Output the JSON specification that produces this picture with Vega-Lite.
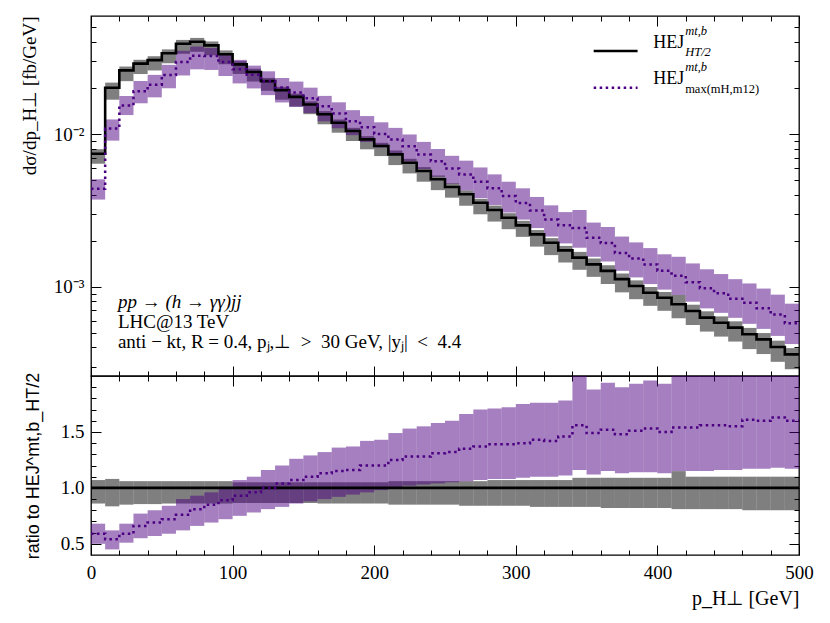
{
  "$schema": "https://vega.github.io/schema/vega-lite/v6.json",
  "background": "white",
  "padding": {"left": 19, "top": 14, "right": 32, "bottom": 10},
  "spacing": 0,
  "bounds": "flush",
  "config": {
    "view": {"stroke": "black", "strokeWidth": 1.3},
    "font": "Liberation Serif",
    "axis": {
      "domain": false, "grid": false, "tickColor": "black", "tickWidth": 1,
      "labelColor": "black", "titleColor": "black",
      "labelFont": "Liberation Serif", "labelFontSize": 19,
      "titleFont": "Liberation Serif", "titleFontSize": 19, "titleFontWeight": "normal",
      "labelFlush": false, "labelOverlap": false, "zindex": 1
    }
  },
  "datasets": {
    "h": [
      {"lo": 0, "hi": 10, "c": 0.00743, "cl": 0.00639, "ch": 0.00795, "p": 0.00438, "pl": 0.00372, "ph": 0.00505, "rcl": 0.86, "rch": 1.07, "rp": 0.59, "rpl": 0.5, "rph": 0.68},
      {"lo": 10, "hi": 20, "c": 0.0201, "cl": 0.01678, "ch": 0.02171, "p": 0.01085, "pl": 0.00905, "ph": 0.01246, "rcl": 0.835, "rch": 1.08, "rp": 0.54, "rpl": 0.45, "rph": 0.62},
      {"lo": 20, "hi": 30, "c": 0.0261, "cl": 0.02219, "ch": 0.02767, "p": 0.0154, "pl": 0.01331, "ph": 0.01775, "rcl": 0.85, "rch": 1.06, "rp": 0.59, "rpl": 0.51, "rph": 0.68},
      {"lo": 30, "hi": 40, "c": 0.0289, "cl": 0.02471, "ch": 0.03063, "p": 0.01907, "pl": 0.0159, "ph": 0.02225, "rcl": 0.855, "rch": 1.06, "rp": 0.66, "rpl": 0.55, "rph": 0.77},
      {"lo": 40, "hi": 50, "c": 0.0305, "cl": 0.02608, "ch": 0.03233, "p": 0.02105, "pl": 0.01739, "ph": 0.0244, "rcl": 0.855, "rch": 1.06, "rp": 0.69, "rpl": 0.57, "rph": 0.8},
      {"lo": 50, "hi": 60, "c": 0.0338, "cl": 0.02907, "ch": 0.03583, "p": 0.02434, "pl": 0.01994, "ph": 0.02839, "rcl": 0.86, "rch": 1.06, "rp": 0.72, "rpl": 0.59, "rph": 0.84},
      {"lo": 60, "hi": 70, "c": 0.039, "cl": 0.03354, "ch": 0.04134, "p": 0.02964, "pl": 0.02418, "ph": 0.0351, "rcl": 0.86, "rch": 1.06, "rp": 0.76, "rpl": 0.62, "rph": 0.9},
      {"lo": 70, "hi": 80, "c": 0.0402, "cl": 0.03457, "ch": 0.04261, "p": 0.03256, "pl": 0.02653, "ph": 0.03739, "rcl": 0.86, "rch": 1.06, "rp": 0.81, "rpl": 0.66, "rph": 0.93},
      {"lo": 80, "hi": 90, "c": 0.0381, "cl": 0.03277, "ch": 0.04039, "p": 0.03239, "pl": 0.02629, "ph": 0.03658, "rcl": 0.86, "rch": 1.06, "rp": 0.85, "rpl": 0.69, "rph": 0.96},
      {"lo": 90, "hi": 100, "c": 0.0333, "cl": 0.02864, "ch": 0.0353, "p": 0.02964, "pl": 0.02398, "ph": 0.03363, "rcl": 0.86, "rch": 1.06, "rp": 0.89, "rpl": 0.72, "rph": 1.01},
      {"lo": 100, "hi": 110, "c": 0.0286, "cl": 0.02474, "ch": 0.03003, "p": 0.0266, "pl": 0.02145, "ph": 0.0306, "rcl": 0.865, "rch": 1.05, "rp": 0.93, "rpl": 0.75, "rph": 1.07},
      {"lo": 110, "hi": 120, "c": 0.0255, "cl": 0.02206, "ch": 0.02678, "p": 0.02448, "pl": 0.01989, "ph": 0.02805, "rcl": 0.865, "rch": 1.05, "rp": 0.96, "rpl": 0.78, "rph": 1.1},
      {"lo": 120, "hi": 130, "c": 0.0222, "cl": 0.0192, "ch": 0.02331, "p": 0.0222, "pl": 0.01798, "ph": 0.02575, "rcl": 0.865, "rch": 1.05, "rp": 1.0, "rpl": 0.81, "rph": 1.16},
      {"lo": 130, "hi": 140, "c": 0.0194, "cl": 0.01678, "ch": 0.02037, "p": 0.02018, "pl": 0.0161, "ph": 0.02328, "rcl": 0.865, "rch": 1.05, "rp": 1.04, "rpl": 0.83, "rph": 1.2},
      {"lo": 140, "hi": 150, "c": 0.0175, "cl": 0.01514, "ch": 0.01838, "p": 0.01873, "pl": 0.01505, "ph": 0.02205, "rcl": 0.865, "rch": 1.05, "rp": 1.07, "rpl": 0.86, "rph": 1.26},
      {"lo": 150, "hi": 160, "c": 0.0156, "cl": 0.01349, "ch": 0.01638, "p": 0.01716, "pl": 0.01373, "ph": 0.02012, "rcl": 0.865, "rch": 1.05, "rp": 1.1, "rpl": 0.88, "rph": 1.29},
      {"lo": 160, "hi": 170, "c": 0.01346, "cl": 0.01158, "ch": 0.01413, "p": 0.01521, "pl": 0.01211, "ph": 0.01777, "rcl": 0.86, "rch": 1.05, "rp": 1.13, "rpl": 0.9, "rph": 1.32},
      {"lo": 170, "hi": 180, "c": 0.01186, "cl": 0.0102, "ch": 0.01245, "p": 0.01364, "pl": 0.01091, "ph": 0.01613, "rcl": 0.86, "rch": 1.05, "rp": 1.15, "rpl": 0.92, "rph": 1.36},
      {"lo": 180, "hi": 190, "c": 0.01046, "cl": 0.009, "ch": 0.01098, "p": 0.01213, "pl": 0.00983, "ph": 0.01433, "rcl": 0.86, "rch": 1.05, "rp": 1.16, "rpl": 0.94, "rph": 1.37},
      {"lo": 190, "hi": 200, "c": 0.00923, "cl": 0.00794, "ch": 0.00969, "p": 0.01108, "pl": 0.00886, "ph": 0.01311, "rcl": 0.86, "rch": 1.05, "rp": 1.2, "rpl": 0.96, "rph": 1.42},
      {"lo": 200, "hi": 210, "c": 0.00834, "cl": 0.00717, "ch": 0.00876, "p": 0.01001, "pl": 0.00817, "ph": 0.01193, "rcl": 0.86, "rch": 1.05, "rp": 1.2, "rpl": 0.98, "rph": 1.43},
      {"lo": 210, "hi": 220, "c": 0.00736, "cl": 0.00626, "ch": 0.0078, "p": 0.0092, "pl": 0.00736, "ph": 0.01097, "rcl": 0.85, "rch": 1.06, "rp": 1.25, "rpl": 1.0, "rph": 1.49},
      {"lo": 220, "hi": 230, "c": 0.00649, "cl": 0.00552, "ch": 0.00688, "p": 0.00831, "pl": 0.00662, "ph": 0.00993, "rcl": 0.85, "rch": 1.06, "rp": 1.28, "rpl": 1.02, "rph": 1.53},
      {"lo": 230, "hi": 240, "c": 0.00573, "cl": 0.00487, "ch": 0.00607, "p": 0.00733, "pl": 0.0059, "ph": 0.00888, "rcl": 0.85, "rch": 1.06, "rp": 1.28, "rpl": 1.03, "rph": 1.55},
      {"lo": 240, "hi": 250, "c": 0.00505, "cl": 0.00429, "ch": 0.00535, "p": 0.00662, "pl": 0.00525, "ph": 0.00798, "rcl": 0.85, "rch": 1.06, "rp": 1.31, "rpl": 1.04, "rph": 1.58},
      {"lo": 250, "hi": 260, "c": 0.0045, "cl": 0.00383, "ch": 0.00477, "p": 0.00594, "pl": 0.00473, "ph": 0.0072, "rcl": 0.85, "rch": 1.06, "rp": 1.32, "rpl": 1.05, "rph": 1.6},
      {"lo": 260, "hi": 270, "c": 0.00403, "cl": 0.00339, "ch": 0.00427, "p": 0.00544, "pl": 0.00427, "ph": 0.00669, "rcl": 0.84, "rch": 1.06, "rp": 1.35, "rpl": 1.06, "rph": 1.66},
      {"lo": 270, "hi": 280, "c": 0.00355, "cl": 0.00298, "ch": 0.00376, "p": 0.00486, "pl": 0.0038, "ph": 0.00604, "rcl": 0.84, "rch": 1.06, "rp": 1.37, "rpl": 1.07, "rph": 1.7},
      {"lo": 280, "hi": 290, "c": 0.00318, "cl": 0.00267, "ch": 0.0034, "p": 0.00442, "pl": 0.00343, "ph": 0.00544, "rcl": 0.84, "rch": 1.07, "rp": 1.39, "rpl": 1.08, "rph": 1.71},
      {"lo": 290, "hi": 300, "c": 0.00283, "cl": 0.00238, "ch": 0.00303, "p": 0.00393, "pl": 0.00306, "ph": 0.00487, "rcl": 0.84, "rch": 1.07, "rp": 1.39, "rpl": 1.08, "rph": 1.72},
      {"lo": 300, "hi": 310, "c": 0.00252, "cl": 0.00212, "ch": 0.0027, "p": 0.00353, "pl": 0.00275, "ph": 0.00441, "rcl": 0.84, "rch": 1.07, "rp": 1.4, "rpl": 1.09, "rph": 1.75},
      {"lo": 310, "hi": 320, "c": 0.0022, "cl": 0.00183, "ch": 0.00235, "p": 0.00315, "pl": 0.00242, "ph": 0.00387, "rcl": 0.83, "rch": 1.07, "rp": 1.43, "rpl": 1.1, "rph": 1.76},
      {"lo": 320, "hi": 330, "c": 0.00194, "cl": 0.00161, "ch": 0.00208, "p": 0.00275, "pl": 0.00213, "ph": 0.00341, "rcl": 0.83, "rch": 1.07, "rp": 1.42, "rpl": 1.1, "rph": 1.76},
      {"lo": 330, "hi": 340, "c": 0.00173, "cl": 0.00144, "ch": 0.00185, "p": 0.00253, "pl": 0.00192, "ph": 0.00308, "rcl": 0.83, "rch": 1.07, "rp": 1.46, "rpl": 1.11, "rph": 1.78},
      {"lo": 340, "hi": 350, "c": 0.00155, "cl": 0.00129, "ch": 0.00169, "p": 0.00242, "pl": 0.0018, "ph": 0.00318, "rcl": 0.83, "rch": 1.09, "rp": 1.56, "rpl": 1.16, "rph": 2.05},
      {"lo": 350, "hi": 360, "c": 0.0014, "cl": 0.00116, "ch": 0.00153, "p": 0.00209, "pl": 0.00157, "ph": 0.00263, "rcl": 0.83, "rch": 1.09, "rp": 1.49, "rpl": 1.12, "rph": 1.88},
      {"lo": 360, "hi": 370, "c": 0.00127, "cl": 0.00104, "ch": 0.00138, "p": 0.00193, "pl": 0.00146, "ph": 0.00246, "rcl": 0.82, "rch": 1.09, "rp": 1.52, "rpl": 1.15, "rph": 1.94},
      {"lo": 370, "hi": 380, "c": 0.00112, "cl": 0.000918, "ch": 0.00122, "p": 0.00166, "pl": 0.00127, "ph": 0.00213, "rcl": 0.82, "rch": 1.09, "rp": 1.48, "rpl": 1.13, "rph": 1.9},
      {"lo": 380, "hi": 390, "c": 0.00101, "cl": 0.000828, "ch": 0.0011, "p": 0.00153, "pl": 0.00115, "ph": 0.00195, "rcl": 0.82, "rch": 1.09, "rp": 1.51, "rpl": 1.14, "rph": 1.93},
      {"lo": 390, "hi": 400, "c": 0.000913, "cl": 0.000749, "ch": 0.000995, "p": 0.0014, "pl": 0.00104, "ph": 0.00179, "rcl": 0.82, "rch": 1.09, "rp": 1.53, "rpl": 1.14, "rph": 1.96},
      {"lo": 400, "hi": 410, "c": 0.000847, "cl": 0.000695, "ch": 0.000923, "p": 0.00127, "pl": 0.000957, "ph": 0.00163, "rcl": 0.82, "rch": 1.09, "rp": 1.5, "rpl": 1.13, "rph": 1.93},
      {"lo": 410, "hi": 420, "c": 0.000767, "cl": 0.000621, "ch": 0.000882, "p": 0.00118, "pl": 0.000882, "ph": 0.00157, "rcl": 0.81, "rch": 1.15, "rp": 1.54, "rpl": 1.15, "rph": 2.05},
      {"lo": 420, "hi": 430, "c": 0.000693, "cl": 0.000561, "ch": 0.000762, "p": 0.00107, "pl": 0.000797, "ph": 0.00142, "rcl": 0.81, "rch": 1.1, "rp": 1.54, "rpl": 1.15, "rph": 2.05},
      {"lo": 430, "hi": 440, "c": 0.000627, "cl": 0.000508, "ch": 0.00069, "p": 0.000978, "pl": 0.000721, "ph": 0.0013, "rcl": 0.81, "rch": 1.1, "rp": 1.56, "rpl": 1.15, "rph": 2.08},
      {"lo": 440, "hi": 450, "c": 0.000581, "cl": 0.000471, "ch": 0.000639, "p": 0.000906, "pl": 0.000674, "ph": 0.00121, "rcl": 0.81, "rch": 1.1, "rp": 1.56, "rpl": 1.16, "rph": 2.08},
      {"lo": 450, "hi": 460, "c": 0.000539, "cl": 0.000437, "ch": 0.000593, "p": 0.000835, "pl": 0.000625, "ph": 0.00112, "rcl": 0.81, "rch": 1.1, "rp": 1.55, "rpl": 1.16, "rph": 2.08},
      {"lo": 460, "hi": 470, "c": 0.000488, "cl": 0.00039, "ch": 0.000537, "p": 0.000786, "pl": 0.000571, "ph": 0.00105, "rcl": 0.8, "rch": 1.1, "rp": 1.61, "rpl": 1.17, "rph": 2.15},
      {"lo": 470, "hi": 480, "c": 0.000452, "cl": 0.000362, "ch": 0.000497, "p": 0.000723, "pl": 0.000529, "ph": 0.000972, "rcl": 0.8, "rch": 1.1, "rp": 1.6, "rpl": 1.17, "rph": 2.15},
      {"lo": 480, "hi": 490, "c": 0.000403, "cl": 0.000322, "ch": 0.000443, "p": 0.000657, "pl": 0.000476, "ph": 0.000887, "rcl": 0.8, "rch": 1.1, "rp": 1.63, "rpl": 1.18, "rph": 2.2},
      {"lo": 490, "hi": 500, "c": 0.00036, "cl": 0.000288, "ch": 0.000396, "p": 0.000576, "pl": 0.000421, "ph": 0.000774, "rcl": 0.8, "rch": 1.1, "rp": 1.6, "rpl": 1.17, "rph": 2.15},
      {"lo": 500, "hi": 500, "c": 0.00036, "cl": 0.000288, "ch": 0.000396, "p": 0.000576, "pl": 0.000421, "ph": 0.000774, "rcl": 0.8, "rch": 1.1, "rp": 1.6, "rpl": 1.17, "rph": 2.15}
    ]
  },
  "vconcat": [
    {
      "width": 708,
      "height": 360,
      "data": {"name": "h"},
      "resolve": {"axis": {"x": "independent", "y": "independent"}},
      "layer": [
        {
          "mark": {"type": "rect", "color": "black", "opacity": 0.5, "clip": true},
          "encoding": {
            "x": {"field": "lo", "type": "quantitative", "scale": {"domain": [0, 500], "nice": false, "zero": false},
                  "axis": {"orient": "bottom", "values": [0, 100, 200, 300, 400, 500], "labels": false, "tickSize": -10, "title": null}},
            "x2": {"field": "hi"},
            "y": {"field": "cl", "type": "quantitative", "scale": {"type": "log", "domain": [0.00026, 0.0593], "nice": false},
                  "axis": {"orient": "left", "values": [0.001, 0.01], "labelExpr": "datum.value < 0.005 ? '10⁻³' : '10⁻²'",
                           "tickSize": -10, "labelPadding": 17, "title": "dσ/dp_H⊥ [fb/GeV]", "titleAnchor": "end", "titlePadding": 8, "minExtent": 44, "maxExtent": 44}},
            "y2": {"field": "ch"}
          }
        },
        {
          "mark": {"type": "rect", "color": "#4b0082", "opacity": 0.5, "clip": true},
          "encoding": {
            "x": {"field": "lo", "type": "quantitative",
                  "axis": {"orient": "bottom", "values": [20, 40, 60, 80, 120, 140, 160, 180, 220, 240, 260, 280, 320, 340, 360, 380, 420, 440, 460, 480], "labels": false, "tickSize": -5, "title": null}},
            "x2": {"field": "hi"},
            "y": {"field": "pl", "type": "quantitative",
                  "axis": {"orient": "left", "values": [0.0003, 0.0004, 0.0005, 0.0006, 0.0007, 0.0008, 0.0009, 0.002, 0.003, 0.004, 0.005, 0.006, 0.007, 0.008, 0.009, 0.02, 0.03, 0.04, 0.05], "labels": false, "tickSize": -5, "title": null}},
            "y2": {"field": "ph"}
          }
        },
        {
          "mark": {"type": "line", "color": "black", "strokeWidth": 2.6, "interpolate": "step-after", "clip": true},
          "encoding": {
            "x": {"field": "lo", "type": "quantitative",
                  "axis": {"orient": "top", "values": [0, 100, 200, 300, 400, 500], "labels": false, "tickSize": -10, "title": null}},
            "y": {"field": "c", "type": "quantitative",
                  "axis": {"orient": "right", "values": [0.001, 0.01], "labels": false, "tickSize": -10, "title": null}}
          }
        },
        {
          "mark": {"type": "line", "color": "#4b0082", "strokeWidth": 2.5, "strokeDash": [2.5, 3.5], "interpolate": "step-after", "clip": true},
          "encoding": {
            "x": {"field": "lo", "type": "quantitative",
                  "axis": {"orient": "top", "values": [20, 40, 60, 80, 120, 140, 160, 180, 220, 240, 260, 280, 320, 340, 360, 380, 420, 440, 460, 480], "labels": false, "tickSize": -5, "title": null}},
            "y": {"field": "p", "type": "quantitative",
                  "axis": {"orient": "right", "values": [0.0003, 0.0004, 0.0005, 0.0006, 0.0007, 0.0008, 0.0009, 0.002, 0.003, 0.004, 0.005, 0.006, 0.007, 0.008, 0.009, 0.02, 0.03, 0.04, 0.05], "labels": false, "tickSize": -5, "title": null}}
          }
        },
        {
          "data": {"values": [{}]},
          "mark": {"type": "rule", "color": "black", "strokeWidth": 2.6},
          "encoding": {
            "x": {"datum": 355, "type": "quantitative", "axis": null},
            "x2": {"datum": 386},
            "y": {"datum": 0.03495, "type": "quantitative", "axis": null}
          }
        },
        {
          "data": {"values": [{}]},
          "mark": {"type": "rule", "color": "#4b0082", "strokeWidth": 2.5, "strokeDash": [2.5, 3.5]},
          "encoding": {
            "x": {"datum": 355, "type": "quantitative", "axis": null},
            "x2": {"datum": 386},
            "y": {"datum": 0.0201, "type": "quantitative", "axis": null}
          }
        },
        {
          "data": {"values": [{}]},
          "mark": {"type": "text", "text": "HEJ", "align": "left", "baseline": "alphabetic", "fontSize": 18},
          "encoding": {
            "x": {"datum": 397, "type": "quantitative", "axis": null},
            "y": {"datum": 0.0367, "type": "quantitative", "axis": null}
          }
        },
        {
          "data": {"values": [{}]},
          "mark": {"type": "text", "text": "mt,b", "align": "left", "baseline": "alphabetic", "fontSize": 12.5, "fontStyle": "italic", "dx": 32, "dy": -13},
          "encoding": {
            "x": {"datum": 397, "type": "quantitative", "axis": null},
            "y": {"datum": 0.0367, "type": "quantitative", "axis": null}
          }
        },
        {
          "data": {"values": [{}]},
          "mark": {"type": "text", "text": "HT/2", "align": "left", "baseline": "alphabetic", "fontSize": 12.5, "fontStyle": "italic", "dx": 32, "dy": 8},
          "encoding": {
            "x": {"datum": 397, "type": "quantitative", "axis": null},
            "y": {"datum": 0.0367, "type": "quantitative", "axis": null}
          }
        },
        {
          "data": {"values": [{}]},
          "mark": {"type": "text", "text": "HEJ", "align": "left", "baseline": "alphabetic", "fontSize": 18},
          "encoding": {
            "x": {"datum": 397, "type": "quantitative", "axis": null},
            "y": {"datum": 0.02116, "type": "quantitative", "axis": null}
          }
        },
        {
          "data": {"values": [{}]},
          "mark": {"type": "text", "text": "mt,b", "align": "left", "baseline": "alphabetic", "fontSize": 12.5, "fontStyle": "italic", "dx": 32, "dy": -13},
          "encoding": {
            "x": {"datum": 397, "type": "quantitative", "axis": null},
            "y": {"datum": 0.02116, "type": "quantitative", "axis": null}
          }
        },
        {
          "data": {"values": [{}]},
          "mark": {"type": "text", "text": "max(mH,m12)", "align": "left", "baseline": "alphabetic", "fontSize": 12.5, "dx": 32, "dy": 9},
          "encoding": {
            "x": {"datum": 397, "type": "quantitative", "axis": null},
            "y": {"datum": 0.02116, "type": "quantitative", "axis": null}
          }
        },
        {
          "data": {"values": [{}]},
          "mark": {"type": "text", "text": "pp → (h → γγ)jj", "align": "left", "baseline": "alphabetic", "fontSize": 19, "fontStyle": "italic"},
          "encoding": {
            "x": {"datum": 19, "type": "quantitative", "axis": null},
            "y": {"datum": 0.000729, "type": "quantitative", "axis": null}
          }
        },
        {
          "data": {"values": [{}]},
          "mark": {"type": "text", "text": "LHC@13 TeV", "align": "left", "baseline": "alphabetic", "fontSize": 19},
          "encoding": {
            "x": {"datum": 19, "type": "quantitative", "axis": null},
            "y": {"datum": 0.00054, "type": "quantitative", "axis": null}
          }
        },
        {
          "data": {"values": [{}]},
          "mark": {"type": "text", "text": "anti\u00a0−\u00a0kt,\u00a0R\u00a0=\u00a00.4,\u00a0pⱼ,⊥\u00a0\u00a0>\u00a0\u00a030\u00a0GeV,\u00a0|yⱼ|\u00a0\u00a0<\u00a0\u00a04.4", "align": "left", "baseline": "alphabetic", "fontSize": 19},
          "encoding": {
            "x": {"datum": 19, "type": "quantitative", "axis": null},
            "y": {"datum": 0.000399, "type": "quantitative", "axis": null}
          }
        }
      ]
    },
    {
      "width": 708,
      "height": 179,
      "data": {"name": "h"},
      "resolve": {"axis": {"x": "independent", "y": "independent"}},
      "layer": [
        {
          "mark": {"type": "rect", "color": "black", "opacity": 0.5, "clip": true},
          "encoding": {
            "x": {"field": "lo", "type": "quantitative", "scale": {"domain": [0, 500], "nice": false, "zero": false},
                  "axis": {"orient": "bottom", "values": [0, 100, 200, 300, 400, 500], "tickSize": -10, "labelPadding": 18,
                           "title": "p_H⊥ [GeV]", "titleAnchor": "end", "titlePadding": 6, "titleFontSize": 20}},
            "x2": {"field": "hi"},
            "y": {"field": "rcl", "type": "quantitative", "scale": {"domain": [0.4, 2.0], "nice": false, "zero": false},
                  "axis": {"orient": "left", "values": [0.5, 1.0, 1.5], "format": ".1f", "tickSize": -10, "labelPadding": 17,
                           "title": "ratio to HEJ^mt,b_HT/2", "titleFont": "Liberation Sans", "titleFontSize": 18, "titlePadding": 8, "minExtent": 41, "maxExtent": 41}},
            "y2": {"field": "rch"}
          }
        },
        {
          "mark": {"type": "rect", "color": "#4b0082", "opacity": 0.5, "clip": true},
          "encoding": {
            "x": {"field": "lo", "type": "quantitative",
                  "axis": {"orient": "bottom", "values": [20, 40, 60, 80, 120, 140, 160, 180, 220, 240, 260, 280, 320, 340, 360, 380, 420, 440, 460, 480], "labels": false, "tickSize": -5, "title": null}},
            "x2": {"field": "hi"},
            "y": {"field": "rpl", "type": "quantitative",
                  "axis": {"orient": "left", "values": [0.6, 0.7, 0.8, 0.9, 1.1, 1.2, 1.3, 1.4, 1.6, 1.7, 1.8, 1.9], "labels": false, "tickSize": -5, "title": null}},
            "y2": {"field": "rph"}
          }
        },
        {
          "data": {"values": [{}]},
          "mark": {"type": "rule", "color": "black", "strokeWidth": 2.6},
          "encoding": {
            "x": {"datum": 0, "type": "quantitative",
                  "axis": {"orient": "top", "values": [0, 100, 200, 300, 400, 500], "labels": false, "tickSize": -10, "title": null}},
            "x2": {"datum": 500},
            "y": {"datum": 1, "type": "quantitative",
                  "axis": {"orient": "right", "values": [0.5, 1.0, 1.5], "labels": false, "tickSize": -10, "title": null}}
          }
        },
        {
          "mark": {"type": "line", "color": "#4b0082", "strokeWidth": 2.5, "strokeDash": [2.5, 3.5], "interpolate": "step-after", "clip": true},
          "encoding": {
            "x": {"field": "lo", "type": "quantitative",
                  "axis": {"orient": "top", "values": [20, 40, 60, 80, 120, 140, 160, 180, 220, 240, 260, 280, 320, 340, 360, 380, 420, 440, 460, 480], "labels": false, "tickSize": -5, "title": null}},
            "y": {"field": "rp", "type": "quantitative",
                  "axis": {"orient": "right", "values": [0.6, 0.7, 0.8, 0.9, 1.1, 1.2, 1.3, 1.4, 1.6, 1.7, 1.8, 1.9], "labels": false, "tickSize": -5, "title": null}}
          }
        }
      ]
    }
  ]
}
